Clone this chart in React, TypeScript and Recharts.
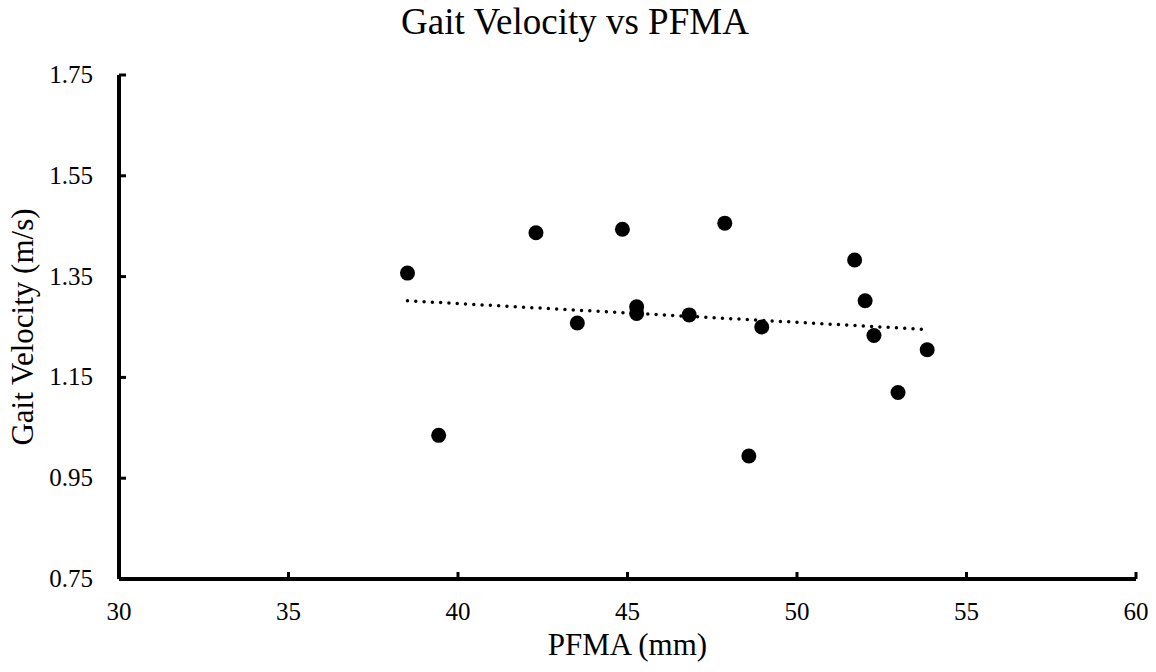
import React from 'react';
import { ScatterChart, Scatter, XAxis, YAxis } from 'recharts';

const pfma: number[] = [38.51, 39.43, 42.3, 43.52, 44.85, 45.27, 45.27, 46.82, 47.87, 48.58, 48.96, 51.7, 52.01, 52.27, 52.98, 53.84];
const velocity: number[] = [1.357, 1.035, 1.437, 1.258, 1.444, 1.29, 1.277, 1.274, 1.456, 0.994, 1.25, 1.383, 1.302, 1.233, 1.12, 1.205];
const trendX: number[] = [38.51, 53.84];
const trendY: number[] = [1.302, 1.245];
const xTicks: number[] = [30, 35, 40, 45, 50, 55, 60];
const yTicks: number[] = [0.75, 0.95, 1.15, 1.35, 1.55, 1.75];

const points = pfma.map((x, i) => ({ x, y: velocity[i] }));
const trend = trendX.map((x, i) => ({ x, y: trendY[i] }));

const FONT = "'Liberation Serif', 'Times New Roman', serif";

const XTick = (props: any) => {
  const { x, y, payload } = props;
  return (
    <g>
      <line x1={x} y1={y} x2={x} y2={y - 7} stroke="#000" strokeWidth={3} />
      <text x={x} y={y + 41} textAnchor="middle" style={{ fontSize: 25, fontFamily: FONT, fill: '#000' }}>
        {payload.value}
      </text>
    </g>
  );
};

const YTick = (props: any) => {
  const { x, y, payload } = props;
  return (
    <g>
      <line x1={x} y1={y} x2={x + 7} y2={y} stroke="#000" strokeWidth={3} />
      <text x={x - 26} y={y + 8} textAnchor="end" style={{ fontSize: 25, fontFamily: FONT, fill: '#000' }}>
        {Number(payload.value).toFixed(2)}
      </text>
    </g>
  );
};

const YLabel = (props: any) => {
  const vb = props.viewBox || { x: 0, y: 75, width: 119, height: 504 };
  const cy = vb.y + vb.height / 2;
  const cx = 33;
  return (
    <text
      x={cx}
      y={cy}
      transform={`rotate(-90 ${cx} ${cy})`}
      textAnchor="middle"
      style={{ fontSize: 31, fontFamily: FONT, fill: '#000' }}
    >
      Gait Velocity (m/s)
    </text>
  );
};

export default function App() {
  return (
    <div style={{ position: 'absolute', left: 0, top: 0, width: 1156, height: 672, background: '#fff', fontFamily: FONT }}>
      <svg width={1156} height={60} style={{ position: 'absolute', left: 0, top: 0, pointerEvents: 'none' }}>
        <text x={575} y={34} textAnchor="middle" style={{ fontSize: 37, fontFamily: FONT, fill: '#000' }}>
          Gait Velocity vs PFMA
        </text>
      </svg>
      <ScatterChart width={1156} height={672} margin={{ top: 75, right: 20, left: 0, bottom: 0 }} style={{ fontFamily: FONT }}>
        <XAxis
          type="number"
          dataKey="x"
          domain={[30, 60]}
          ticks={xTicks}
          allowDataOverflow
          tickSize={0}
          tickMargin={0}
          tickLine={false}
          tick={<XTick />}
          axisLine={{ stroke: '#000', strokeWidth: 4 }}
          height={93}
          label={{ value: 'PFMA (mm)', position: 'insideBottom', offset: 17, fontSize: 31, fontFamily: FONT, fill: '#000' }}
        />
        <YAxis
          type="number"
          dataKey="y"
          domain={[0.75, 1.75]}
          ticks={yTicks}
          allowDataOverflow
          tickSize={0}
          tickMargin={0}
          tickLine={false}
          tick={<YTick />}
          axisLine={{ stroke: '#000', strokeWidth: 4 }}
          width={119}
          label={<YLabel />}
        />
        <Scatter
          data={trend}
          isAnimationActive={false}
          shape={() => <g />}
          line={{ stroke: '#000', strokeWidth: 3.5, strokeDasharray: '0 8.3', strokeLinecap: 'round' }}
          fill="#000"
        />
        <Scatter
          data={points}
          isAnimationActive={false}
          fill="#000"
          shape={(p: any) => <circle cx={p.cx} cy={p.cy} r={7.5} fill="#000" />}
        />
      </ScatterChart>
    </div>
  );
}
